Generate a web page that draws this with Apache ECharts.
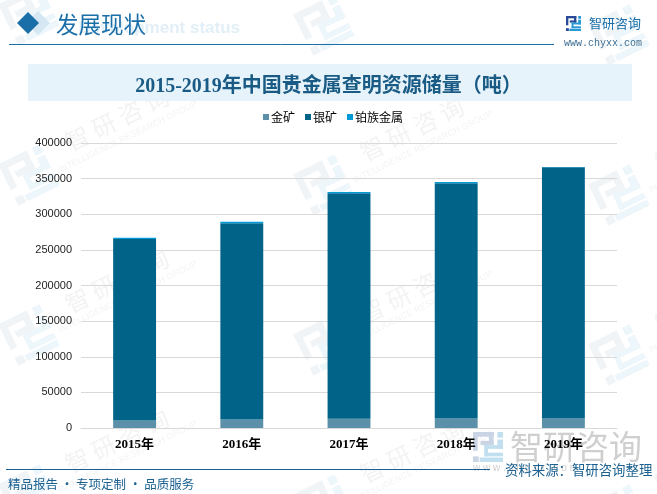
<!DOCTYPE html>
<html>

<head>
    <meta charset="utf-8" />
    <script src="https://cdn.jsdelivr.net/npm/echarts@6/dist/echarts.min.js"></script>
    <style>
        html, body { margin: 0; padding: 0; background: #fff; }
    </style>
</head>

<body>
    <div id="main" style="width: 657px; height: 494px;"></div>
    <script type="text/javascript">
        // 图表数据
        var years = ['2015年', '2016年', '2017年', '2018年', '2019年'];
        var yTicks = [0, 50000, 100000, 150000, 200000, 250000, 300000, 350000, 400000];
        var gold = [10500, 12000, 13000, 13300, 13500];
        var silver = [254700, 275500, 316500, 330300, 352600];
        var platinum = [1800, 1800, 1800, 1800, 300];

        var serif = '"Liberation Serif", "Noto Sans CJK SC", serif';
        var sans = '"Liberation Sans", "Noto Sans CJK SC", sans-serif';
        var cjk = '"Noto Sans CJK SC", sans-serif';

        var myChart = echarts.init(document.getElementById('main'));

        // 公司logo，16x16的格子
        var logoDark = [[0, 0, 11, 2.5], [8.5, 0, 2.5, 7], [4, 4.7, 7, 2.3], [0, 0, 2.5, 10], [0, 13, 3, 3]];
        var logoLight = [[13, 0, 3, 3], [13, 4, 3, 5], [6, 7, 10, 2], [6, 7, 2, 6], [6, 11, 10, 2], [3.5, 13.6, 12.5, 2.4]];

        function logo(x, y, size, rotation, dark, light, z) {
            var s = size / 16;
            var children = [];
            function add(list, color) {
                list.forEach(function (r) {
                    children.push({
                        type: 'rect',
                        z: z,
                        shape: { x: r[0] * s, y: r[1] * s, width: r[2] * s, height: r[3] * s },
                        style: { fill: color }
                    });
                });
            }
            add(logoDark, dark);
            add(logoLight, light);
            return {
                type: 'group',
                x: x,
                y: y,
                rotation: rotation,
                originX: size / 2,
                originY: size / 2,
                children: children
            };
        }

        function text(x, y, str, size, color, font, extra) {
            var style = {
                x: x, y: y, text: str, fill: color,
                font: (extra && extra.weight ? extra.weight + ' ' : '') + size + 'px ' + font,
                textAlign: (extra && extra.align) || 'left',
                textVerticalAlign: 'middle'
            };
            return { type: 'text', z: (extra && extra.z) || 1, style: style };
        }

        // 背景水印
        var marks = [];
        var rot = 26 * Math.PI / 180;
        for (var row = 0; row < 4; row++) {
            for (var col = 0; col < 3; col++) {
                var dx = col * 295;
                var dy = row * 160 + col * 10;
                marks.push(logo(dx + 6, dy - 8, 46, rot, '#f1f4f7', '#edf6fb', 0));
                marks.push({
                    type: 'text',
                    x: 117 + dx,
                    y: dy + 119 + (row > 0 ? 2 : 0),
                    rotation: rot,
                    z: 0,
                    style: {
                        text: '智 研 咨 询', fill: '#f3f3f3',
                        font: '24px ' + cjk, align: 'center', verticalAlign: 'middle'
                    }
                });
                marks.push({
                    type: 'text',
                    x: 128 + dx,
                    y: dy + 137,
                    rotation: rot,
                    z: 0,
                    style: {
                        text: 'INTELLIGENCE RESEARCH GROUP', fill: '#f4f4f4',
                        font: '9px ' + sans, align: 'center', verticalAlign: 'middle'
                    }
                });
            }
        }

        var decor = marks.concat([
            // 页眉
            text(240, 28, 'Development status', 17, '#e3eff7', sans, { weight: 'bold', align: 'right' }),
            {
                type: 'polygon', z: 1,
                shape: { points: [[38, 11], [50, 23], [38, 35], [26, 23]] },
                style: { fill: '#d5e7f3' }
            },
            {
                type: 'polygon', z: 1,
                shape: { points: [[28, 12], [39, 23], [28, 34], [17, 23]] },
                style: { fill: '#1a6fa9' }
            },
            text(56, 24, '发展现状', 22.5, '#1a6fa9', cjk),
            { type: 'line', z: 1, shape: { x1: 9, y1: 44.5, x2: 554, y2: 44.5 }, style: { stroke: '#1a6fa9', lineWidth: 1 } },
            logo(566, 16, 15, 0, '#2b4a96', '#2a9ad6', 1),
            text(589, 23, '智研咨询', 13, '#1a6fa9', cjk),
            text(564, 43, 'www.chyxx.com', 10, '#3f6f92', '"Liberation Mono", monospace'),
            // 标题背景
            { type: 'rect', z: 1, shape: { x: 28, y: 64, width: 604, height: 37 }, style: { fill: '#e6f3fb' } },
            // 页脚
            logo(473, 432, 30, 0, '#c9d4e4', '#c2dff0', 1),
            text(510, 446, '智研咨询', 33, '#cfcfcf', cjk),
            text(473, 468, 'w w w . c h y x x . c o m', 10, '#d0d0d0', sans),
            { type: 'line', z: 1, shape: { x1: 6, y1: 469.5, x2: 490, y2: 469.5 }, style: { stroke: '#1a6090', lineWidth: 1 } },
            text(8, 484, '精品报告 · 专项定制 · 品质服务', 12.5, '#1a6090', cjk, { z: 3 }),
            text(505, 470, '资料来源：智研咨询整理', 13.4, '#1a6090', cjk, { z: 3 })
        ]);

        var option = {
            backgroundColor: '#fff',
            animation: false,
            color: ['#5b90a8', '#016388', '#019ad6'],
            title: {
                text: '2015-2019年中国贵金属查明资源储量（吨）',
                left: 'center',
                top: 72,
                textStyle: { fontFamily: serif, fontSize: 20, fontWeight: 'bold', color: '#1a5b85' }
            },
            legend: {
                top: 106,
                left: 258,
                icon: 'rect',
                itemWidth: 6,
                itemHeight: 6,
                itemGap: 10,
                textStyle: { fontFamily: cjk, fontSize: 12, color: '#000', padding: [0, 0, 0, -3] }
            },
            grid: { left: 81, right: 40, top: 143, bottom: 66 },
            xAxis: {
                type: 'category',
                z: 3,
                data: years,
                axisLine: { lineStyle: { color: '#d9d9d9' } },
                axisTick: { show: false },
                axisLabel: { margin: 10, fontFamily: serif, fontSize: 13, fontWeight: 'bold', color: '#000' }
            },
            yAxis: {
                type: 'value',
                min: yTicks[0],
                max: yTicks[yTicks.length - 1],
                interval: yTicks[1] - yTicks[0],
                axisLine: { show: false },
                axisTick: { show: false },
                axisLabel: {
                    margin: 9, fontFamily: sans, fontSize: 11, color: '#222',
                    formatter: function (v) { return String(v); }
                },
                splitLine: { lineStyle: { color: '#d9d9d9' } }
            },
            series: [
                { name: '金矿', type: 'bar', stack: 'total', barWidth: '40%', data: gold },
                { name: '银矿', type: 'bar', stack: 'total', barWidth: '40%', data: silver },
                { name: '铂族金属', type: 'bar', stack: 'total', barWidth: '40%', data: platinum }
            ],
            graphic: { elements: decor }
        };

        myChart.setOption(option);
    </script>
</body>

</html>
